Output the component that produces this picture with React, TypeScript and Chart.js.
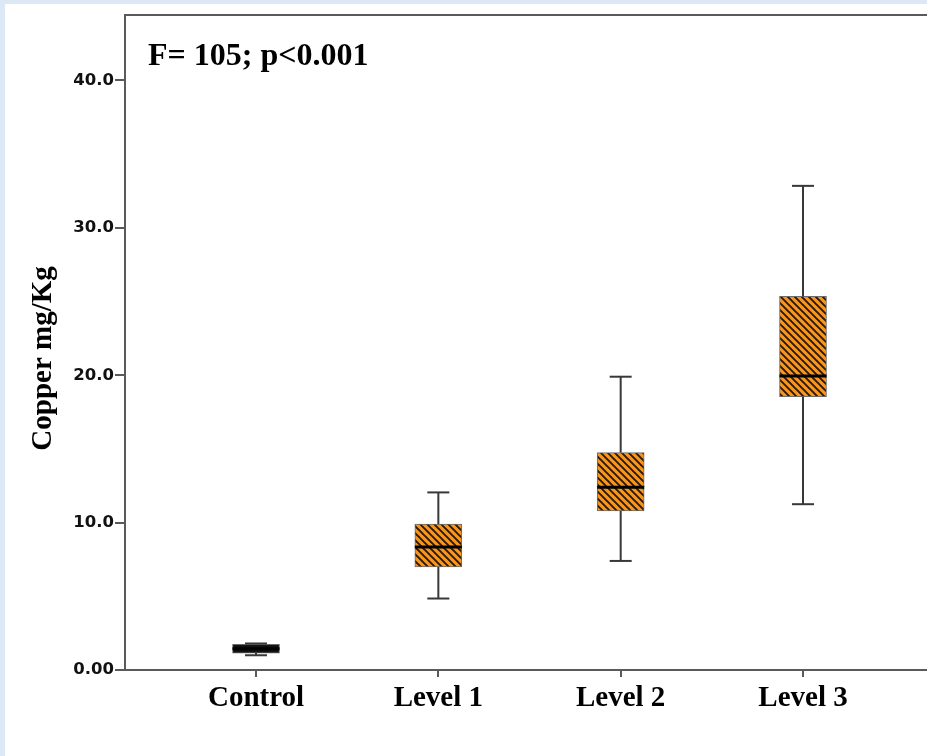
import React, { useEffect, useRef } from 'react';
import { Chart, registerables } from 'chart.js';

Chart.register(...registerables);

const categories = ['Control', 'Level 1', 'Level 2', 'Level 3'];
const minValues = [1.0, 4.85, 7.4, 11.25];
const q1Values = [1.15, 7.0, 10.8, 18.55];
const medianValues = [1.45, 8.35, 12.4, 19.95];
const q3Values = [1.75, 9.9, 14.75, 25.35];
const maxValues = [1.8, 12.05, 19.9, 32.85];
const yTickValues = [0, 10, 20, 30, 40];
const yTickLabels = ['0.00', '10.0', '20.0', '30.0', '40.0'];
const annotationText = 'F= 105; p<0.001';
const yTitleText = 'Copper mg/Kg';

const AXIS_COLOR = '#5a5a5a';
const SERIF = '"Liberation Serif", "Times New Roman", serif';

function makeHatch(): CanvasPattern | string {
  const c = document.createElement('canvas');
  const s = 7;
  c.width = s;
  c.height = s;
  const g = c.getContext('2d');
  if (!g) return '#f5921e';
  g.fillStyle = '#f7951f';
  g.fillRect(0, 0, s, s);
  g.strokeStyle = '#2a1804';
  g.lineWidth = 1.9;
  g.lineCap = 'square';
  g.beginPath();
  g.moveTo(-1, -1);
  g.lineTo(s + 1, s + 1);
  g.moveTo(-1, s - 1);
  g.lineTo(1, s + 1);
  g.moveTo(s - 1, -1);
  g.lineTo(s + 1, 1);
  g.stroke();
  const p = g.createPattern(c, 'repeat');
  return p || '#f5921e';
}

const boxPlugin = {
  id: 'boxWhiskers',
  afterDatasetsDraw(chart: any) {
    const { ctx, scales, chartArea: ca } = chart;
    const x = scales.x;
    const y = scales.y;
    const meta = chart.getDatasetMeta(0);
    const line = (x1: number, y1: number, x2: number, y2: number) => {
      ctx.beginPath();
      ctx.moveTo(x1, y1);
      ctx.lineTo(x2, y2);
      ctx.stroke();
    };
    ctx.save();
    categories.forEach((_, i) => {
      const cx = x.getPixelForValue(i);
      const el = meta.data[i];
      const half = (el && el.width ? el.width : 47) / 2;
      const yMin = y.getPixelForValue(minValues[i]);
      const yQ1 = y.getPixelForValue(q1Values[i]);
      const yMed = y.getPixelForValue(medianValues[i]);
      const yQ3 = y.getPixelForValue(q3Values[i]);
      const yMax = y.getPixelForValue(maxValues[i]);
      ctx.strokeStyle = '#383838';
      ctx.lineWidth = 2;
      line(cx, yMax, cx, yQ3);
      line(cx, yQ1, cx, yMin);
      line(cx - 11, yMax, cx + 11, yMax);
      line(cx - 11, yMin, cx + 11, yMin);
      ctx.strokeStyle = '#000';
      ctx.lineWidth = 3;
      line(cx - half, yMed, cx + half, yMed);
    });
    ctx.strokeStyle = AXIS_COLOR;
    ctx.lineWidth = 2;
    line(ca.left, ca.top, ca.right, ca.top);

    ctx.fillStyle = '#000';
    ctx.font = `bold 32px ${SERIF}`;
    ctx.textAlign = 'left';
    ctx.textBaseline = 'alphabetic';
    ctx.fillText(annotationText, ca.left + 23, ca.top + 50);

    ctx.translate(46, (ca.top + ca.bottom) / 2 + 16);
    ctx.rotate(-Math.PI / 2);
    ctx.textAlign = 'center';
    ctx.font = `bold 29px ${SERIF}`;
    ctx.fillText(yTitleText, 0, 0);
    ctx.restore();
  },
};

export default function App() {
  const ref = useRef<HTMLCanvasElement | null>(null);

  useEffect(() => {
    const canvas = ref.current;
    if (!canvas) return;
    const hatch = makeHatch();
    const chart = new Chart(canvas, {
      type: 'bar',
      data: {
        datasets: [
          {
            data: categories.map((_, i) => ({ x: i, y: [q1Values[i], q3Values[i]] })) as any,
            backgroundColor: categories.map((_, i) => (i === 0 ? '#111111' : hatch)) as any,
            borderColor: '#6b6b6b',
            borderWidth: 1,
            borderSkipped: false,
            barThickness: 47,
          },
        ],
      },
      options: {
        animation: false,
        responsive: false,
        devicePixelRatio: 1,
        layout: { padding: { top: 7, right: 0, left: 0, bottom: 0 } },
        plugins: { legend: { display: false }, tooltip: { enabled: false } },
        scales: {
          x: {
            type: 'linear',
            offset: false,
            min: -0.7185,
            max: 3.68,
            afterBuildTicks: (s: any) => {
              s.ticks = categories.map((_, i) => ({ value: i }));
            },
            afterFit: (s: any) => {
              s.height = 86;
            },
            ticks: {
              autoSkip: false,
              maxRotation: 0,
              padding: 4,
              color: '#000',
              font: { family: SERIF, size: 29, weight: 'bold' },
              callback: (v: any) => categories[v] ?? '',
            },
            grid: {
              offset: false,
              drawOnChartArea: false,
              drawTicks: true,
              tickLength: 7,
              color: AXIS_COLOR,
              lineWidth: 2,
            },
            border: { display: true, color: AXIS_COLOR, width: 2 },
          },
          y: {
            min: 0,
            max: 44.45,
            afterBuildTicks: (s: any) => {
              s.ticks = yTickValues.map((v) => ({ value: v }));
            },
            afterFit: (s: any) => {
              s.width = 120;
            },
            ticks: {
              padding: 1,
              color: '#111',
              font: { family: '"DejaVu Sans", sans-serif', size: 16.5, weight: 'bold' },
              callback: (v: any) => {
                const k = yTickValues.indexOf(v);
                return k >= 0 ? yTickLabels[k] : '';
              },
            },
            grid: {
              drawOnChartArea: false,
              drawTicks: true,
              tickLength: 10,
              color: AXIS_COLOR,
              lineWidth: 2,
            },
            border: { display: true, color: AXIS_COLOR, width: 2 },
          },
        },
      } as any,
      plugins: [boxPlugin],
    });
    return () => chart.destroy();
  }, []);

  return (
    <div
      style={{
        position: 'fixed',
        left: 0,
        top: 0,
        width: 927,
        height: 756,
        background: '#dce8f6',
        overflow: 'hidden',
      }}
    >
      <canvas
        ref={ref}
        width={922}
        height={752}
        style={{ position: 'absolute', left: 5, top: 4, width: 922, height: 752, background: '#ffffff' }}
      />
    </div>
  );
}
